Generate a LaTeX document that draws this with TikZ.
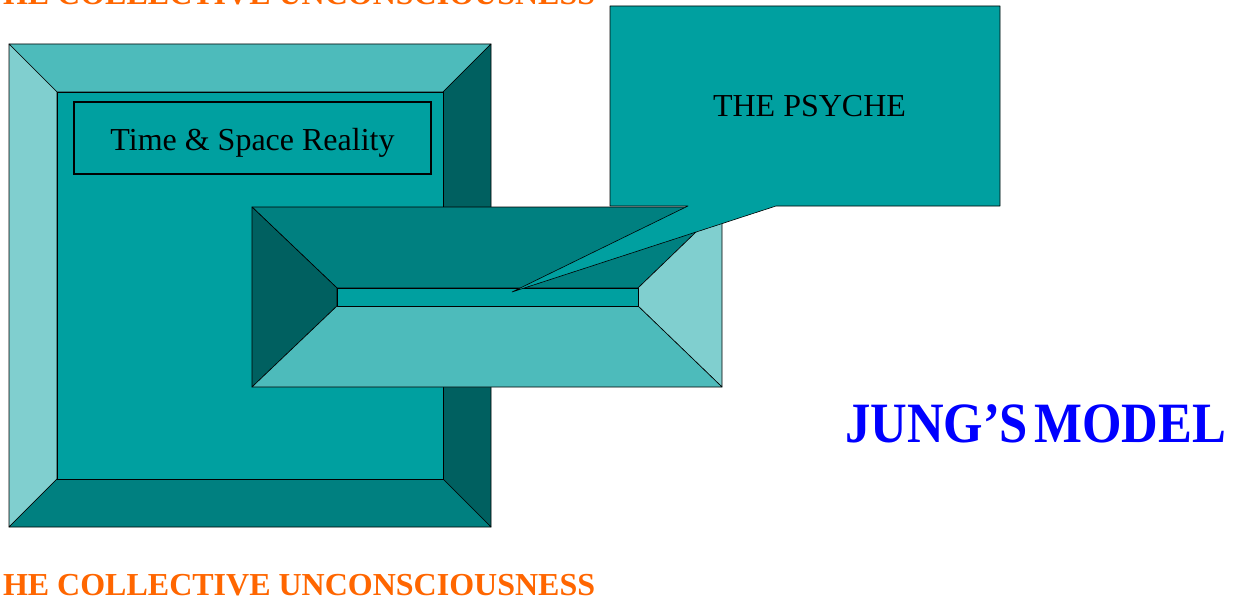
\documentclass[tikz,border=0pt]{standalone}
\usepackage{fontspec}
\setmainfont{Liberation Serif}
\definecolor{tealC}{HTML}{00A0A0}
\definecolor{tealL}{HTML}{80CFCF}
\definecolor{tealT}{HTML}{4DBBBB}
\definecolor{tealD}{HTML}{008080}
\definecolor{tealDD}{HTML}{006060}
\definecolor{orangeT}{HTML}{FF6600}
\definecolor{blueT}{HTML}{0000FF}
\begin{document}
\begin{tikzpicture}[x=1pt,y=-1pt,
  facet/.style={draw=black, line width=0.6pt, line join=round},
  plain/.style={inner sep=0pt, outer sep=0pt, font=\fontsize{32}{38}\selectfont},
  orangelbl/.style={inner sep=0pt, outer sep=0pt, text=orangeT, font=\fontsize{32}{38}\selectfont\bfseries, anchor=base west}]
\useasboundingbox (0,0) rectangle (1239,599);
% big raised bevel
\filldraw[facet, fill=tealT] (9,44)--(491,44)--(443,92)--(57,92)--cycle;
\filldraw[facet, fill=tealL] (9,44)--(57,92)--(57,479)--(9,527)--cycle;
\filldraw[facet, fill=tealDD] (491,44)--(491,527)--(443,479)--(443,92)--cycle;
\filldraw[facet, fill=tealD] (9,527)--(57,479)--(443,479)--(491,527)--cycle;
\filldraw[facet, fill=tealC] (57,92) rectangle (443,479);
% text box
\draw[line width=2.6pt] (74,102) rectangle (431,174);
\node[plain, anchor=base] (tsr) at (252.5,150) {Time \& Space Reality};
% sunken bevel
\filldraw[facet, fill=tealD] (252,207)--(722,207)--(638,288)--(337,288)--cycle;
\filldraw[facet, fill=tealDD] (252,207)--(337,288)--(337,306)--(252,387)--cycle;
\filldraw[facet, fill=tealL] (722,207)--(722,387)--(638,306)--(638,288)--cycle;
\filldraw[facet, fill=tealT] (252,387)--(337,306)--(638,306)--(722,387)--cycle;
\filldraw[facet, fill=tealC] (337,288) rectangle (638,306);
% callout
\filldraw[facet, fill=tealC] (610,6)--(1000,6)--(1000,206)--(776,206)--(512,292)--(688,206)--(610,206)--cycle;
\node[plain, anchor=base] (psyche) at (809.5,117) {THE PSYCHE};
% labels
\node[orangelbl] (cuTop) at (3,5) {HE COLLECTIVE UNCONSCIOUSNESS};
\node[orangelbl] (cuBot) at (3,595) {HE COLLECTIVE UNCONSCIOUSNESS};
\node[inner sep=0pt, outer sep=0pt, anchor=base west, text=blueT] (jung) at (845,442)
  {\scalebox{0.89}[1]{\fontsize{57}{64}\selectfont\bfseries JUNG’S\hspace{7pt}MODEL}};
\end{tikzpicture}
\end{document}
